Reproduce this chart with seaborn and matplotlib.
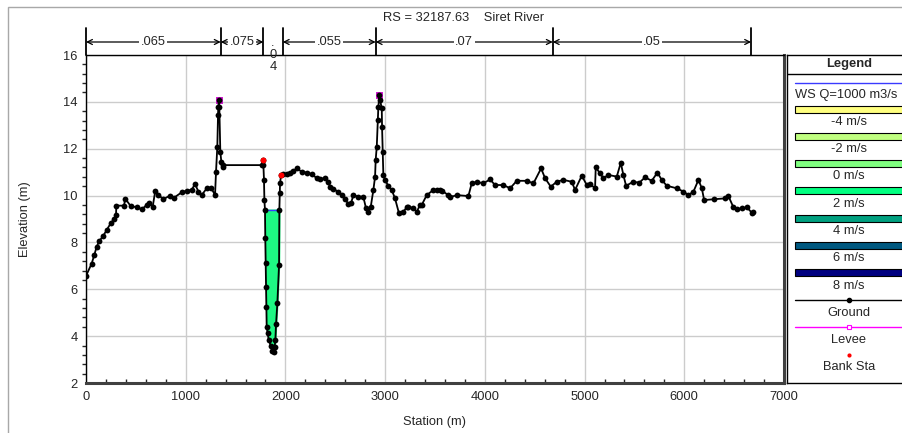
import numpy as np
import pandas as pd
import seaborn as sns
import matplotlib.pyplot as plt
import matplotlib.transforms as mtransforms
from matplotlib.patches import Rectangle
from matplotlib.ticker import MultipleLocator

# Ground profile (station m, elevation m)
station = [0, 57, 83, 107, 134, 174, 207, 248, 281, 301, 304, 381, 394, 448, 511, 559,
           609, 632, 669, 695, 725, 775, 842, 883, 960, 1010, 1060, 1093, 1127, 1160,
           1211, 1254, 1294, 1304, 1317, 1324, 1327, 1334, 1337, 1347, 1357, 1371, 1377,
           1762, 1772, 1779, 1785, 1789, 1795, 1798, 1802, 1805, 1808, 1812, 1822, 1832,
           1852, 1869, 1886, 1892, 1899, 1906, 1919, 1936, 1939, 1943, 1946, 1956, 1979,
           2013, 2046, 2079, 2113, 2163, 2214, 2264, 2314, 2347, 2397, 2430, 2447, 2480,
           2531, 2564, 2598, 2630, 2660, 2681, 2731, 2781, 2808, 2832, 2856, 2882, 2899,
           2905, 2916, 2926, 2932, 2942, 2949, 2966, 2969, 2976, 2982, 2999, 3032, 3066,
           3099, 3139, 3183, 3216, 3233, 3283, 3317, 3350, 3367, 3417, 3484, 3517, 3551,
           3568, 3634, 3651, 3718, 3835, 3868, 3918, 3985, 4052, 4102, 4186, 4253, 4320,
           4420, 4487, 4564, 4604, 4661, 4721, 4788, 4871, 4905, 4972, 5022, 5055, 5105,
           5112, 5155, 5189, 5239, 5323, 5363, 5389, 5416, 5489, 5549, 5607, 5674, 5730,
           5774, 5824, 5925, 5992, 6042, 6092, 6142, 6176, 6199, 6293, 6409, 6442, 6493,
           6527, 6577, 6627, 6677, 6690]
elevation = [6.57, 7.1, 7.46, 7.82, 8.06, 8.29, 8.53, 8.82, 8.99, 9.17, 9.57, 9.57, 9.87,
             9.55, 9.5, 9.41, 9.6, 9.67, 9.53, 10.21, 10.04, 9.84, 10.0, 9.91, 10.14,
             10.21, 10.24, 10.5, 10.17, 10.02, 10.31, 10.34, 10.02, 11.02, 12.09, 13.44,
             13.79, 14.08, 13.79, 11.87, 11.45, 11.23, 11.3,
             11.3, 11.52, 11.3, 10.67, 9.81, 9.38, 8.18, 7.11, 6.11, 5.26, 4.4, 4.12, 3.84,
             3.6, 3.38, 3.34, 3.55, 3.84, 4.52, 5.4, 7.04, 9.38, 10.1, 10.52, 10.88, 10.91,
             10.92, 10.98, 11.05, 11.16, 11.02, 10.98, 10.92, 10.74, 10.69, 10.76, 10.59,
             10.38, 10.27, 10.17, 10.02, 9.85, 9.65, 9.7, 10.02, 9.95, 9.95, 9.46, 9.31,
             9.53, 10.24, 10.81, 11.52, 12.09, 13.23, 13.79, 14.29, 14.08, 13.72, 12.94,
             11.87, 10.88, 10.67, 10.41, 10.24, 9.88, 9.24, 9.31, 9.5, 9.53, 9.46, 9.31,
             9.6, 9.6, 10.02, 10.24, 10.24, 10.24, 10.21, 10.02, 9.93, 10.02, 9.98, 10.52,
             10.59, 10.52, 10.69, 10.45, 10.45, 10.31, 10.63, 10.63, 10.52, 11.16, 10.74,
             10.38, 10.59, 10.67, 10.59, 10.24, 10.85, 10.45, 10.5, 10.31, 11.2, 10.95,
             10.74, 10.88, 10.81, 11.4, 10.88, 10.42, 10.59, 10.55, 10.78, 10.63, 10.98,
             10.67, 10.42, 10.31, 10.17, 10.02, 10.17, 10.67, 10.31, 9.81, 9.84, 9.88,
             9.98, 9.5, 9.41, 9.46, 9.5, 9.27, 9.3]

levee_sta = [1334, 2942]
levee_elev = [14.08, 14.29]
bank_sta = [1772, 1956]
bank_elev = [11.52, 10.88]

ws_elev = 9.4
ws_left, ws_right = 1795, 1939

n_breaks = [0, 1351, 1779, 1973, 2905, 4681, 6670]
n_values = ['.065', '.075', '.04', '.055', '.07', '.05']

speed_labels = ['-4 m/s', '-2 m/s', '0 m/s', '2 m/s', '4 m/s', '6 m/s', '8 m/s']
speed_colors = ['#ffff80', '#c0ff80', '#80ff80', '#00ff80', '#00a080', '#005880', '#000080']

ground = pd.DataFrame({'Station': station, 'Elevation': elevation})

sns.set_style('white')
plt.rcParams['font.family'] = ['Liberation Sans', 'DejaVu Sans']
FS = 9.3

W, H = 903, 433
fig = plt.figure(figsize=(W / 100, H / 100), dpi=100)

# outer frame
fig.patches.append(Rectangle((8 / W, -0.1), 1.0, 1 - 7 / H + 0.1, transform=fig.transFigure,
                             fill=False, ec='#a8a8a8', lw=1))

ax = fig.add_axes([86 / W, 50 / H, 698 / W, 328 / H])

# water in the channel
chan = ground[(ground['Station'] >= ws_left) & (ground['Station'] <= ws_right)]
ax.fill_between(chan['Station'], chan['Elevation'], ws_elev, color='#1ef883', zorder=1)
ax.plot([ws_left, ws_right], [ws_elev, ws_elev], color='#3a3aff', lw=1, zorder=1.5)

sns.scatterplot(x=levee_sta, y=levee_elev, marker='s', s=24, color='#ff00ff',
                edgecolor='#c000c0', linewidth=0.6, ax=ax, zorder=1.8)
sns.lineplot(data=ground, x='Station', y='Elevation', sort=False, estimator=None,
             color='black', lw=1.3, marker='o', markersize=4.2, markeredgewidth=0, ax=ax, zorder=2)
sns.scatterplot(x=bank_sta, y=bank_elev, s=18, color='#ff0000', linewidth=0, ax=ax, zorder=3)

ax.set_xlim(0, 7000)
ax.set_ylim(2, 16)
ax.xaxis.set_major_locator(MultipleLocator(1000))
ax.xaxis.set_minor_locator(MultipleLocator(200))
ax.yaxis.set_major_locator(MultipleLocator(2))
ax.yaxis.set_minor_locator(MultipleLocator(0.4))
ax.grid(True, which='major', color='#cccccc', lw=1)
ax.set_axisbelow(True)
ax.tick_params(axis='x', which='major', direction='inout', length=7, width=1, labelsize=FS, pad=2)
ax.tick_params(axis='x', which='minor', direction='in', length=3, width=1, bottom=True)
ax.tick_params(axis='y', which='major', direction='out', length=5, width=1, labelsize=FS, pad=1)
ax.tick_params(axis='y', which='minor', direction='out', length=3, width=1, left=True)
ax.set_xlabel('')
ax.set_ylabel('')
for side in ['left', 'top']:
    ax.spines[side].set_color('black')
    ax.spines[side].set_linewidth(1)
for side in ['right', 'bottom']:
    ax.spines[side].set_color('#404040')
    ax.spines[side].set_linewidth(2.2)

fig.text(435 / W, 1 - 422 / H, 'Station (m)', ha='center', va='center', fontsize=FS)
fig.text(25 / W, 1 - 219 / H, 'Elevation (m)', ha='center', va='center', rotation=90, fontsize=FS)
fig.text(383 / W, 1 - 18 / H, 'RS = 32187.63    Siret River', ha='left', va='center', fontsize=FS)

# Manning's n bands above the plot
trans = mtransforms.blended_transform_factory(ax.transData, ax.transAxes)
y_arrow = 1 + 13 / 328
y_bar = 1 + 27 / 328
for xb in n_breaks:
    ax.plot([xb, xb], [1.0, y_bar], color='black', lw=1.3, transform=trans, clip_on=False)
for x0, x1, val in zip(n_breaks[:-1], n_breaks[1:], n_values):
    mid = (x0 + x1) / 2
    if x1 - x0 < 300:
        ax.text(mid, 1.0, '\n'.join(val), ha='center', va='center', fontsize=FS,
                linespacing=1.05, transform=trans, clip_on=False)
        continue
    ax.annotate('', xy=(x0, y_arrow), xytext=(x1, y_arrow), xycoords=trans, textcoords=trans,
                arrowprops=dict(arrowstyle='<->', lw=0.9, color='black', shrinkA=0, shrinkB=0,
                                mutation_scale=9), annotation_clip=False)
    ax.text(mid, y_arrow, val, ha='center', va='center', fontsize=FS, transform=trans,
            bbox=dict(fc='white', ec='none', pad=1.0), clip_on=False, zorder=5)

# legend panel
lax = fig.add_axes([787 / W, 50 / H, 140 / W, 328 / H])
lax.set_xlim(787, 927)
lax.set_ylim(383, 55)
lax.set_xticks([])
lax.set_yticks([])
for sp in lax.spines.values():
    sp.set_color('black')
    sp.set_linewidth(1)
lax.text(849, 64, 'Legend', ha='center', va='center', fontsize=FS, fontweight='bold')
lax.plot([787, 927], [73.5, 73.5], color='black', lw=1)
lax.plot([795, 927], [82.7, 82.7], color='#3a3aff', lw=1)
lax.text(795, 95, 'WS Q=1000 m3/s', ha='left', va='center', fontsize=FS)
step = 27.3
for i, (lab, col) in enumerate(zip(speed_labels, speed_colors)):
    yb = 109 + step * i
    lax.add_patch(Rectangle((795, yb - 3.5), 108, 7, fc=col, ec='black', lw=0.8))
    lax.text(849, yb + 12.8, lab, ha='center', va='center', fontsize=FS)
yg = 109 + step * 7
lax.plot([795, 903], [yg, yg], color='black', lw=1)
lax.plot([849], [yg], marker='o', color='black', markersize=3)
lax.text(849, yg + 12.5, 'Ground', ha='center', va='center', fontsize=FS)
yl = yg + step
lax.plot([795, 903], [yl, yl], color='#ff00ff', lw=1)
lax.plot([849], [yl], marker='s', color='#ff00ff', mfc='white', markersize=3.5, mew=0.8)
lax.text(849, yl + 12.5, 'Levee', ha='center', va='center', fontsize=FS)
yk = yl + step
lax.plot([849], [yk], marker='o', color='#ff0000', markersize=3, mew=0)
lax.text(849, yk + 12.5, 'Bank Sta', ha='center', va='center', fontsize=FS)

fig.savefig('out.png', dpi=100)
